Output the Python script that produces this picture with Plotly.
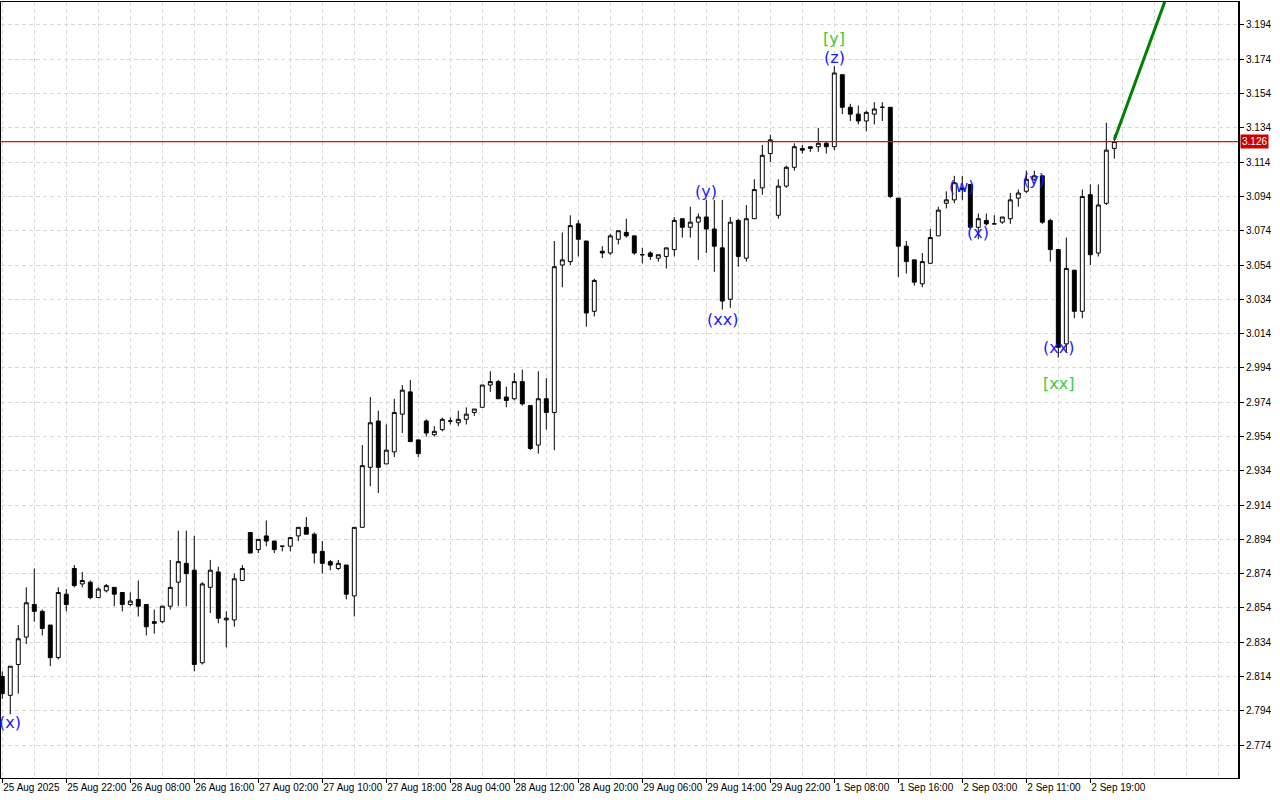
import plotly.graph_objects as go

# ---- data (hourly bars, index = bar number) ----
opens = [2.814, 2.803, 2.821, 2.837, 2.856, 2.852, 2.844, 2.825, 2.862, 2.877,
         2.868, 2.869, 2.860, 2.864, 2.866, 2.863, 2.856, 2.859, 2.856, 2.846,
         2.846, 2.855, 2.869, 2.880, 2.876, 2.822, 2.866, 2.875, 2.847, 2.847,
         2.870, 2.898, 2.888, 2.896, 2.893, 2.890, 2.890, 2.896, 2.901, 2.897,
         2.887, 2.881, 2.877, 2.879, 2.861, 2.901, 2.936, 2.963, 2.938, 2.945,
         2.967, 2.980, 2.952, 2.963, 2.955, 2.958, 2.963, 2.962, 2.964, 2.968,
         2.971, 2.984, 2.986, 2.977, 2.976, 2.986, 2.972, 2.949, 2.976, 2.968,
         3.054, 3.056, 3.078, 3.068, 3.027, 3.062, 3.061, 3.069, 3.073, 3.071,
         3.060, 3.061, 3.058, 3.059, 3.063, 3.081, 3.076, 3.079, 3.082, 3.075,
         3.064, 3.034, 3.080, 3.058, 3.081, 3.099, 3.119, 3.083, 3.100, 3.111,
         3.122, 3.122, 3.123, 3.125, 3.123, 3.165, 3.146, 3.142, 3.138, 3.142,
         3.146, 3.146, 3.093, 3.065, 3.057, 3.043, 3.055, 3.071, 3.090, 3.092,
         3.098, 3.101, 3.076, 3.080, 3.078, 3.079, 3.081, 3.093, 3.097, 3.104,
         3.106, 3.080, 3.063, 3.008, 3.051, 3.027, 3.095, 3.061, 3.090, 3.122]
highs = [2.817, 2.820, 2.844, 2.866, 2.877, 2.853, 2.844, 2.866, 2.865, 2.879,
         2.875, 2.870, 2.866, 2.868, 2.866, 2.863, 2.863, 2.870, 2.856, 2.853,
         2.855, 2.882, 2.899, 2.899, 2.896, 2.869, 2.882, 2.878, 2.852, 2.874,
         2.879, 2.898, 2.894, 2.905, 2.893, 2.890, 2.895, 2.901, 2.907, 2.898,
         2.893, 2.882, 2.882, 2.879, 2.901, 2.949, 2.977, 2.969, 2.961, 2.976,
         2.984, 2.987, 2.952, 2.964, 2.960, 2.965, 2.965, 2.969, 2.971, 2.970,
         2.984, 2.992, 2.987, 2.983, 2.991, 2.993, 2.972, 2.992, 2.988, 3.068,
         3.073, 3.083, 3.080, 3.068, 3.046, 3.065, 3.072, 3.074, 3.081, 3.071,
         3.064, 3.062, 3.060, 3.064, 3.082, 3.081, 3.088, 3.084, 3.092, 3.092,
         3.092, 3.082, 3.081, 3.089, 3.104, 3.124, 3.130, 3.104, 3.112, 3.125,
         3.124, 3.123, 3.134, 3.126, 3.170, 3.165, 3.148, 3.147, 3.144, 3.149,
         3.149, 3.146, 3.093, 3.068, 3.057, 3.061, 3.075, 3.088, 3.097, 3.106,
         3.106, 3.101, 3.084, 3.084, 3.083, 3.082, 3.096, 3.098, 3.109, 3.109,
         3.106, 3.081, 3.063, 3.070, 3.051, 3.098, 3.101, 3.101, 3.137, 3.130]
lows = [2.801, 2.792, 2.804, 2.833, 2.846, 2.838, 2.820, 2.824, 2.852, 2.866,
        2.866, 2.859, 2.860, 2.863, 2.855, 2.852, 2.855, 2.849, 2.838, 2.839,
        2.845, 2.853, 2.855, 2.855, 2.817, 2.821, 2.851, 2.845, 2.831, 2.843,
        2.870, 2.886, 2.886, 2.890, 2.886, 2.887, 2.887, 2.893, 2.897, 2.880,
        2.874, 2.876, 2.876, 2.859, 2.849, 2.901, 2.925, 2.921, 2.938, 2.942,
        2.956, 2.951, 2.942, 2.954, 2.954, 2.957, 2.961, 2.960, 2.961, 2.966,
        2.971, 2.980, 2.976, 2.971, 2.975, 2.972, 2.946, 2.944, 2.958, 2.946,
        3.041, 3.054, 3.059, 3.018, 3.024, 3.058, 3.060, 3.066, 3.070, 3.060,
        3.055, 3.057, 3.056, 3.052, 3.059, 3.070, 3.070, 3.057, 3.061, 3.050,
        3.028, 3.029, 3.053, 3.056, 3.081, 3.095, 3.114, 3.081, 3.099, 3.109,
        3.119, 3.120, 3.120, 3.119, 3.121, 3.142, 3.138, 3.136, 3.132, 3.136,
        3.138, 3.093, 3.047, 3.049, 3.042, 3.041, 3.055, 3.071, 3.087, 3.090,
        3.092, 3.075, 3.069, 3.077, 3.078, 3.078, 3.078, 3.088, 3.096, 3.103,
        3.078, 3.056, 3.000, 3.003, 3.023, 3.023, 3.054, 3.059, 3.089, 3.116]
closes = [2.804, 2.820, 2.836, 2.857, 2.852, 2.842, 2.825, 2.863, 2.856, 2.867,
          2.870, 2.860, 2.865, 2.867, 2.862, 2.856, 2.858, 2.855, 2.843, 2.845,
          2.855, 2.866, 2.881, 2.874, 2.821, 2.868, 2.876, 2.848, 2.848, 2.871,
          2.877, 2.886, 2.894, 2.893, 2.888, 2.890, 2.895, 2.901, 2.897, 2.886,
          2.880, 2.879, 2.880, 2.862, 2.901, 2.937, 2.962, 2.936, 2.946, 2.968,
          2.981, 2.951, 2.944, 2.956, 2.957, 2.964, 2.963, 2.964, 2.967, 2.970,
          2.984, 2.986, 2.976, 2.975, 2.986, 2.973, 2.947, 2.976, 2.968, 3.053,
          3.057, 3.077, 3.069, 3.026, 3.045, 3.061, 3.071, 3.074, 3.071, 3.061,
          3.060, 3.059, 3.060, 3.064, 3.080, 3.076, 3.079, 3.082, 3.075, 3.065,
          3.033, 3.079, 3.059, 3.081, 3.098, 3.118, 3.127, 3.100, 3.111, 3.123,
          3.121, 3.123, 3.125, 3.123, 3.166, 3.146, 3.142, 3.138, 3.143, 3.145,
          3.146, 3.094, 3.065, 3.056, 3.044, 3.056, 3.070, 3.086, 3.092, 3.102,
          3.099, 3.076, 3.081, 3.078, 3.078, 3.082, 3.092, 3.096, 3.104, 3.106,
          3.079, 3.063, 3.006, 3.052, 3.027, 3.094, 3.060, 3.089, 3.121, 3.126]
bars = list(range(len(closes)))

time_labels = ["25 Aug 2025", "25 Aug 22:00", "26 Aug 08:00", "26 Aug 16:00",
               "27 Aug 02:00", "27 Aug 10:00", "27 Aug 18:00", "28 Aug 04:00",
               "28 Aug 12:00", "28 Aug 20:00", "29 Aug 06:00", "29 Aug 14:00",
               "29 Aug 22:00", "1 Sep 08:00", "1 Sep 16:00", "2 Sep 03:00",
               "2 Sep 11:00", "2 Sep 19:00"]
time_label_bars = [0, 8, 16, 24, 32, 40, 48, 56, 64, 72, 80, 88, 96, 104, 112, 120, 128, 136]

price_ticks = [2.774, 2.794, 2.814, 2.834, 2.854, 2.874, 2.894, 2.914, 2.934, 2.954,
               2.974, 2.994, 3.014, 3.034, 3.054, 3.074, 3.094, 3.114, 3.134, 3.154,
               3.174, 3.194]

current_price = 3.126

# wave labels
wave_text = ["(x)", "(y)", "(xx)", "[y]", "(z)", "(w)", "(x)", "(y)", "(xx)", "[xx]"]
wave_bar = [1, 88, 90, 104, 104, 120, 122, 129, 132, 132]
wave_price = [2.787, 3.097, 3.022, 3.186, 3.175, 3.100, 3.073, 3.104, 3.006, 2.985]
wave_color = ["#1a1aff", "#1a1aff", "#1a1aff", "#40c840", "#1a1aff", "#1a1aff",
              "#1a1aff", "#1a1aff", "#1a1aff", "#40c840"]

# projected trend line
trend_bar = [139, 148]
trend_price = [3.127, 3.242]

GRID = "#d8d8d8"
FONT = "Liberation Sans"

fig = go.Figure()
fig.add_trace(go.Candlestick(
    x=bars, open=opens, high=highs, low=lows, close=closes,
    increasing=dict(fillcolor="white", line=dict(color="black", width=1)),
    decreasing=dict(fillcolor="black", line=dict(color="black", width=1)),
    whiskerwidth=0, showlegend=False, hoverinfo="skip"))

fig.add_trace(go.Scatter(
    x=trend_bar, y=trend_price, mode="lines",
    line=dict(color="#008000", width=3), showlegend=False, hoverinfo="skip",
    cliponaxis=True))

fig.add_shape(type="line", xref="paper", x0=0, x1=1, yref="y",
              y0=current_price, y1=current_price,
              line=dict(color="#ff0000", width=1.3))

for t, b, p, c in zip(wave_text, wave_bar, wave_price, wave_color):
    fig.add_annotation(x=b, y=p, text=t, showarrow=False, xref="x", yref="y",
                       font=dict(family="DejaVu Sans", size=16, color=c))

fig.add_annotation(xref="paper", x=1, xanchor="left", xshift=2, yref="y",
                   y=current_price, text=f"{current_price:.3f}", showarrow=False,
                   bgcolor="#cc0000", borderpad=1,
                   font=dict(family=FONT, size=10, color="white"))

fig.update_layout(
    width=1280, height=800,
    margin=dict(l=1, r=42, t=2, b=22),
    paper_bgcolor="white", plot_bgcolor="white",
    hovermode=False, showlegend=False,
    boxgap=0.3,
    xaxis=dict(
        type="linear", range=[-0.16, 154.46], rangeslider=dict(visible=False),
        tickmode="array", tickvals=time_label_bars, ticktext=time_labels,
        tickangle=0, automargin=False,
        ticks="outside", ticklen=4, tickcolor="black",
        ticklabelposition="outside right",
        tickfont=dict(family=FONT, size=10, color="black"),
        showgrid=True, gridcolor=GRID, griddash="4px,3px", gridwidth=1,
        minor=dict(dtick=4, tick0=0, showgrid=True, gridcolor=GRID,
                   griddash="4px,3px", ticks=""),
        showline=True, linecolor="black", linewidth=1, mirror=True,
        zeroline=False, fixedrange=True),
    yaxis=dict(
        side="right", range=[2.7548, 3.2074], automargin=False,
        tickmode="array", tickvals=price_ticks, tickformat=".3f",
        ticks="outside", ticklen=4, tickcolor="black",
        tickfont=dict(family=FONT, size=10, color="black"),
        showgrid=True, gridcolor=GRID, griddash="4px,3px", gridwidth=1,
        showline=True, linecolor="black", linewidth=2, mirror=True,
        zeroline=False, fixedrange=True),
)

fig.write_html("out.html", config={"displayModeBar": False},
               post_script="document.body.style.margin='0';document.body.style.overflow='hidden';")
